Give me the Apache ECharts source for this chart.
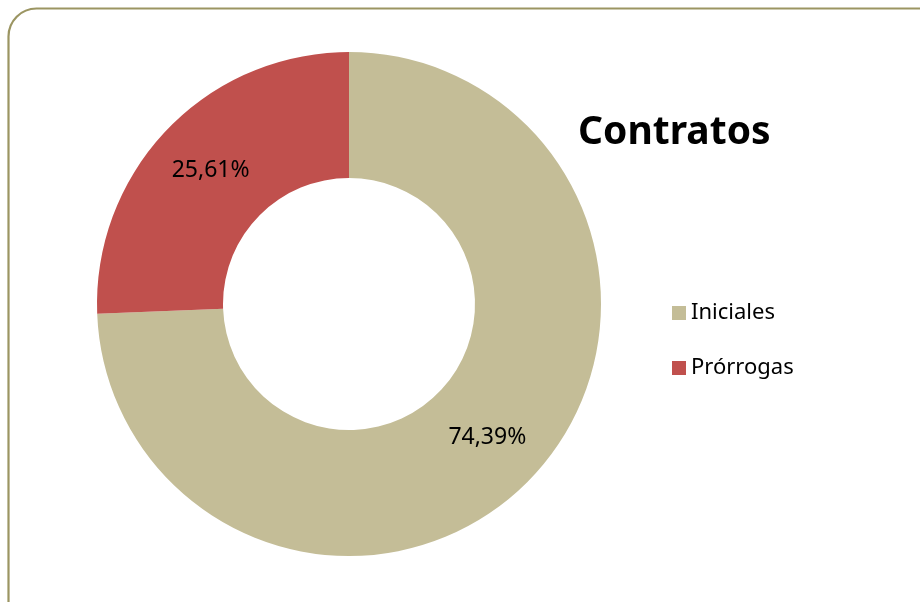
<!DOCTYPE html>
<html><head><meta charset="utf-8">
<script src="https://cdn.jsdelivr.net/npm/echarts@6/dist/echarts.min.js"></script>
<style>html,body{margin:0;padding:0;background:#fff}#c{width:920px;height:602px}</style>
</head><body><div id="c"></div>
<script>
const categories = ['Iniciales', 'Prórrogas'];
const values = [74.39, 25.61];
const labels = ['74,39%', '25,61%'];
const colors = ['#c4bd97', '#c0504d'];
const titleText = 'Contratos';

const chart = echarts.init(document.getElementById('c'));
const FONT = '"Noto Sans", "Open Sans", sans-serif';
chart.setOption({
  animation: false,
  color: colors,
  graphic: [{
    type: 'rect', shape: {x: 8.5, y: 8.5, width: 960, height: 640, r: 28},
    style: {fill: 'none', stroke: '#9b9562', lineWidth: 2.2}, z: -1
  }],
  title: {
    text: titleText, left: 573, top: 108,
    textStyle: {fontFamily: FONT, fontWeight: 'bold', fontSize: 39, color: '#000'}
  },
  legend: {
    orient: 'vertical', left: 672, top: 302, padding: 0, itemWidth: 14, itemHeight: 14, itemGap: 33,
    icon: 'rect',
    textStyle: {fontFamily: FONT, fontSize: 22, color: '#000'},
    data: categories
  },
  series: [{
    type: 'pie', center: [349, 304], radius: [126, 252], startAngle: 90, clockwise: true,
    avoidLabelOverlap: false,
    label: {show: true, position: 'inside', fontFamily: FONT, fontSize: 23, color: '#000',
      formatter: p => labels[p.dataIndex]},
    labelLine: {show: false},
    itemStyle: {borderWidth: 0},
    emphasis: {disabled: true},
    data: categories.map((c, i) => ({name: c, value: values[i]}))
  }]
});
</script></body></html>
